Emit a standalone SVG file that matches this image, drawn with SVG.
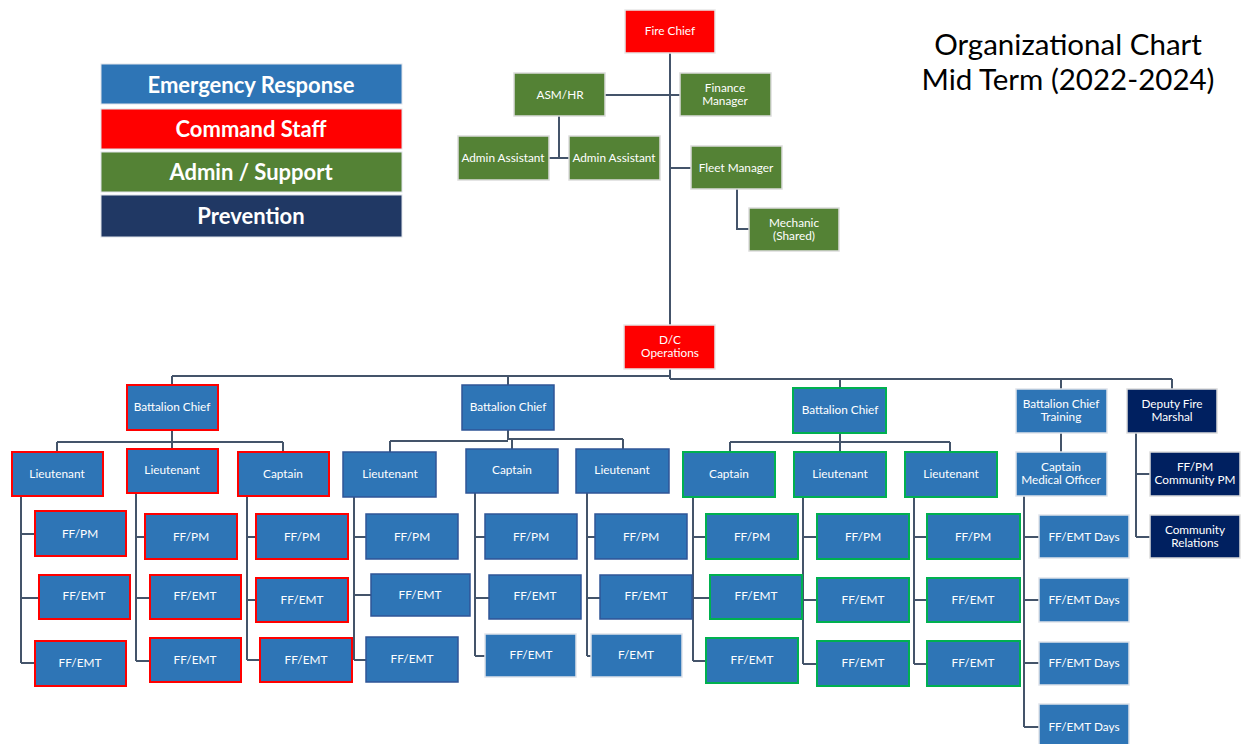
<svg xmlns="http://www.w3.org/2000/svg" width="1248" height="744" viewBox="0 0 1248 744">
<style>
.c{fill:none;stroke:#44546A;stroke-width:2}
text{font-family:Lato,"Liberation Sans",sans-serif;fill:#fff;text-anchor:middle;dominant-baseline:central}
.n text{font-size:11.8px}
.blue{fill:#2E75B6;stroke:#2F5597;stroke-width:1.5}
.bl{fill:#2E75B6;stroke:#dfe3ea;stroke-width:1.5}
.br{fill:#2E75B6;stroke:#FF0000;stroke-width:2}
.bg{fill:#2E75B6;stroke:#00B050;stroke-width:2}
.red{fill:#FF0000;stroke:#e8e8e8;stroke-width:1.5}
.grn{fill:#548235;stroke:#dcdcdc;stroke-width:1.5}
.nav{fill:#002060;stroke:#dcdcdc;stroke-width:1.5}
.lg text{font-size:22px;font-weight:bold}
.title{font-family:Lato,"Liberation Sans",sans-serif;fill:#000;font-size:29.5px}
</style>
<rect width="1248" height="744" fill="#fff"/>
<g id="legend" class="lg">
<rect x="101" y="64" width="301" height="40" fill="#2E75B6" stroke="#dfe3ea"/><text x="251" y="84">Emergency Response</text>
<rect x="101" y="109" width="301" height="40" fill="#FF0000" stroke="#dfe3ea"/><text x="251" y="128">Command Staff</text>
<rect x="101" y="152" width="301" height="40" fill="#548235" stroke="#dfe3ea"/><text x="251" y="171">Admin / Support</text>
<rect x="101" y="195" width="301" height="42" fill="#203864" stroke="#dfe3ea"/><text x="251" y="215">Prevention</text>
</g>
<g id="title">
<text class="title" x="1068" y="43">Organizational Chart</text>
<text class="title" x="1068" y="78">Mid Term (2022-2024)</text>
</g>
<g id="connectors">
<path class="c" d="M670 53V325M605 95H680M670 168H691M559 116V158M549 158H569M737 189V229H749"/>
<path class="c" d="M670 369V379M172 376H670M172 376V385M508 376V385M670 379H1172M840 379V388M1061 379V389M1172 379V389"/>
<path class="c" d="M172 430V442M57 442H283M57 442V452M172 442V449M283 442V452"/>
<path class="c" d="M21 496V663M21 534H35M21 598H39M21 663H35"/>
<path class="c" d="M136 493V661M136 537H145M136 598H150M136 661H150"/>
<path class="c" d="M247 496V660M247 537H256M247 600H256M247 660H260"/>
<path class="c" d="M508 430V440M390 441H508M390 441V452M508 439H623M512 439V449M623 439V449"/>
<path class="c" d="M354 497V660M354 537H366M354 595H371M354 660H366"/>
<path class="c" d="M475 493V656M475 537H485M475 598H489M475 656H485"/>
<path class="c" d="M587 493V656M587 537H595M587 598H600M587 656H591"/>
<path class="c" d="M840 433V442M730 442H950M730 442V452M840 442V452M950 442V452"/>
<path class="c" d="M693 497V661M693 537H706M693 598H710M693 661H706"/>
<path class="c" d="M803 497V664M803 537H817M803 600H817M803 664H817"/>
<path class="c" d="M914 497V664M914 537H927M914 600H927M914 664H927"/>
<path class="c" d="M1061 433V452M1024 496V727M1024 537H1039M1024 600H1039M1024 663H1039M1024 727H1039"/>
<path class="c" d="M1136 433V537M1136 474H1150M1136 537H1150"/>
</g>
<g class="n">
<g id="fire-chief"><rect class="red" x="625" y="10" width="90" height="43"/><text x="670" y="30.5">Fire Chief</text></g>
<g id="asm-hr"><rect class="grn" x="514" y="73" width="91" height="43"/><text x="560" y="94">ASM/HR</text></g>
<g id="finance"><rect class="grn" x="680" y="73" width="91" height="43"/><text x="725" y="87.5">Finance</text><text x="725" y="100.5">Manager</text></g>
<g id="admin1"><rect class="grn" x="458" y="136" width="91" height="44"/><text x="503" y="157">Admin Assistant</text></g>
<g id="admin2"><rect class="grn" x="569" y="136" width="91" height="44"/><text x="614" y="157">Admin Assistant</text></g>
<g id="fleet"><rect class="grn" x="691" y="146" width="91" height="43"/><text x="736" y="167">Fleet Manager</text></g>
<g id="mechanic"><rect class="grn" x="749" y="208" width="90" height="43"/><text x="794" y="222.5">Mechanic</text><text x="794" y="235.5">(Shared)</text></g>
<g id="dc-ops"><rect class="red" x="624" y="325" width="91" height="44"/><text x="670" y="339.5">D/C</text><text x="670" y="352.5">Operations</text></g>

<g id="bc1"><rect class="br" x="127" y="385" width="91" height="45"/><text x="172" y="406">Battalion Chief</text></g>
<g id="bc1-lt1"><rect class="br" x="12" y="452" width="91" height="44"/><text x="57" y="473">Lieutenant</text></g>
<g id="bc1-lt2"><rect class="br" x="127" y="449" width="91" height="44"/><text x="172" y="469.5">Lieutenant</text></g>
<g id="bc1-cpt"><rect class="br" x="238" y="452" width="91" height="44"/><text x="283" y="473">Captain</text></g>
<g id="a1"><rect class="br" x="35" y="511" width="91" height="45"/><text x="80" y="533">FF/PM</text></g>
<g id="a2"><rect class="br" x="39" y="575" width="91" height="44"/><text x="84" y="595.5">FF/EMT</text></g>
<g id="a3"><rect class="br" x="35" y="641" width="91" height="45"/><text x="80" y="662">FF/EMT</text></g>
<g id="b1"><rect class="br" x="145" y="514" width="92" height="45"/><text x="191" y="536">FF/PM</text></g>
<g id="b2"><rect class="br" x="150" y="575" width="91" height="44"/><text x="195" y="595.5">FF/EMT</text></g>
<g id="b3"><rect class="br" x="150" y="638" width="91" height="44"/><text x="195" y="659">FF/EMT</text></g>
<g id="c1"><rect class="br" x="256" y="514" width="92" height="45"/><text x="302" y="536">FF/PM</text></g>
<g id="c2"><rect class="br" x="256" y="578" width="92" height="44"/><text x="302" y="599">FF/EMT</text></g>
<g id="c3"><rect class="br" x="260" y="638" width="92" height="44"/><text x="306" y="659">FF/EMT</text></g>

<g id="bc2"><rect class="blue" x="462" y="385" width="92" height="45"/><text x="508" y="406">Battalion Chief</text></g>
<g id="bc2-lt1"><rect class="blue" x="343" y="452" width="93" height="45"/><text x="390" y="473">Lieutenant</text></g>
<g id="bc2-cpt"><rect class="blue" x="466" y="449" width="92" height="44"/><text x="512" y="469.5">Captain</text></g>
<g id="bc2-lt2"><rect class="blue" x="576" y="449" width="93" height="44"/><text x="622" y="469.5">Lieutenant</text></g>
<g id="d1"><rect class="blue" x="366" y="514" width="92" height="45"/><text x="412" y="536">FF/PM</text></g>
<g id="d2"><rect class="blue" x="371" y="574" width="99" height="42"/><text x="420" y="594">FF/EMT</text></g>
<g id="d3"><rect class="blue" x="366" y="637" width="92" height="45"/><text x="412" y="658">FF/EMT</text></g>
<g id="e1"><rect class="blue" x="485" y="514" width="92" height="45"/><text x="531" y="536">FF/PM</text></g>
<g id="e2"><rect class="blue" x="489" y="575" width="92" height="44"/><text x="535" y="595.5">FF/EMT</text></g>
<g id="e3"><rect class="bl" x="485" y="634" width="91" height="43"/><text x="531" y="654.5">FF/EMT</text></g>
<g id="f1"><rect class="blue" x="595" y="514" width="92" height="45"/><text x="641" y="536">FF/PM</text></g>
<g id="f2"><rect class="blue" x="600" y="575" width="92" height="44"/><text x="646" y="595.5">FF/EMT</text></g>
<g id="f3"><rect class="bl" x="591" y="634" width="91" height="43"/><text x="636" y="654.5">F/EMT</text></g>

<g id="bc3"><rect class="bg" x="793" y="388" width="93" height="45"/><text x="840" y="409.5">Battalion Chief</text></g>
<g id="bc3-cpt"><rect class="bg" x="683" y="452" width="92" height="45"/><text x="729" y="473">Captain</text></g>
<g id="bc3-lt1"><rect class="bg" x="794" y="452" width="92" height="45"/><text x="840" y="473">Lieutenant</text></g>
<g id="bc3-lt2"><rect class="bg" x="905" y="452" width="92" height="45"/><text x="951" y="473">Lieutenant</text></g>
<g id="g1"><rect class="bg" x="706" y="514" width="92" height="45"/><text x="752" y="536">FF/PM</text></g>
<g id="g2"><rect class="bg" x="710" y="575" width="92" height="44"/><text x="756" y="595.5">FF/EMT</text></g>
<g id="g3"><rect class="bg" x="706" y="638" width="92" height="45"/><text x="752" y="659">FF/EMT</text></g>
<g id="h1"><rect class="bg" x="817" y="514" width="92" height="45"/><text x="863" y="536">FF/PM</text></g>
<g id="h2"><rect class="bg" x="817" y="578" width="92" height="44"/><text x="863" y="599">FF/EMT</text></g>
<g id="h3"><rect class="bg" x="817" y="641" width="92" height="45"/><text x="863" y="662">FF/EMT</text></g>
<g id="i1"><rect class="bg" x="927" y="514" width="93" height="45"/><text x="973" y="536">FF/PM</text></g>
<g id="i2"><rect class="bg" x="927" y="578" width="93" height="44"/><text x="973" y="599">FF/EMT</text></g>
<g id="i3"><rect class="bg" x="927" y="641" width="93" height="45"/><text x="973" y="662">FF/EMT</text></g>

<g id="bc-training"><rect class="bl" x="1016" y="389" width="91" height="44"/><text x="1061" y="403.5">Battalion Chief</text><text x="1061" y="416.5">Training</text></g>
<g id="cpt-medical"><rect class="bl" x="1016" y="452" width="91" height="44"/><text x="1061" y="466.5">Captain</text><text x="1061" y="479.5">Medical Officer</text></g>
<g id="j1"><rect class="bl" x="1039" y="515" width="90" height="43"/><text x="1084" y="536">FF/EMT Days</text></g>
<g id="j2"><rect class="bl" x="1039" y="578" width="90" height="44"/><text x="1084" y="599">FF/EMT Days</text></g>
<g id="j3"><rect class="bl" x="1039" y="642" width="90" height="43"/><text x="1084" y="662">FF/EMT Days</text></g>
<g id="j4"><rect class="bl" x="1039" y="704" width="90" height="44"/><text x="1084" y="726">FF/EMT Days</text></g>

<g id="dfm"><rect class="nav" x="1127" y="389" width="90" height="44"/><text x="1172" y="403.5">Deputy Fire</text><text x="1172" y="416.5">Marshal</text></g>
<g id="ffpm-community"><rect class="nav" x="1150" y="452" width="90" height="44"/><text x="1195" y="466.5">FF/PM</text><text x="1195" y="479.5">Community PM</text></g>
<g id="community-relations"><rect class="nav" x="1150" y="515" width="90" height="43"/><text x="1195" y="529.5">Community</text><text x="1195" y="542.5">Relations</text></g>
</g>
</svg>
